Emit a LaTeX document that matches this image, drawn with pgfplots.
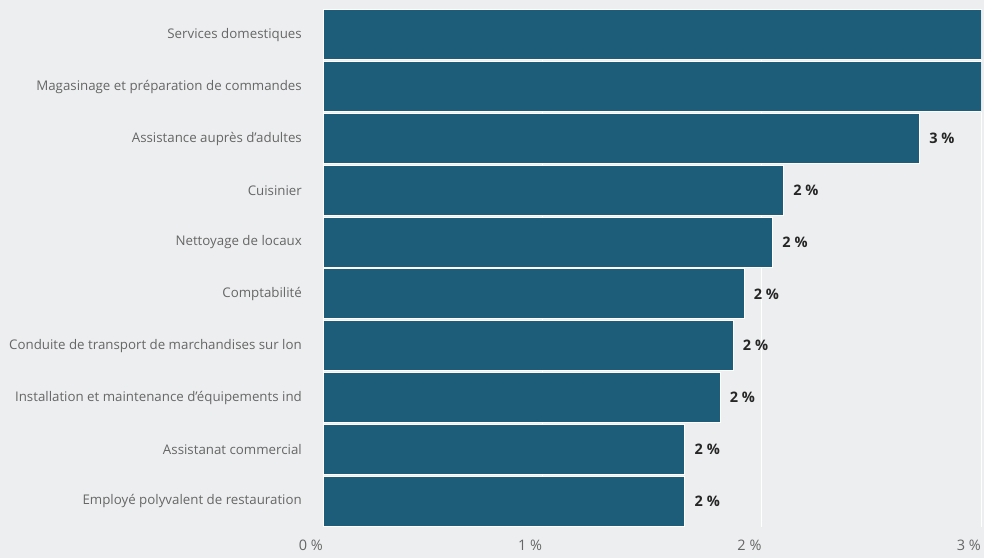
\documentclass[border=0pt]{standalone}
\usepackage{pgfplots}
\pgfplotsset{compat=1.18}
\usepackage{fontspec}
\setmainfont{Open Sans}
\definecolor{bg}{HTML}{EDEEF0}
\definecolor{barc}{HTML}{1E5D7A}
\definecolor{lab}{HTML}{666666}

\begin{document}
\begin{tikzpicture}[x=1pt,y=1pt]
  \fill[bg] (0,0) rectangle (984,558);
  \path[use as bounding box] (0,0) rectangle (984,558);
  \begin{axis}[
    at={(323pt,31pt)}, anchor=south west,
    scale only axis,
    width=658pt, height=518pt,
    xbar, bar width=50pt,
    xmin=0, xmax=3,
    ymin=-0.5, ymax=9.5,
    y dir=reverse,
    axis line style={draw=none},
    tick style={draw=none},
    xtick={0,1,2,3},
    xticklabels={0 \%,1 \%,2 \%,3 \%},
    xticklabel style={font=\fontsize{14.5}{16}\selectfont, text=lab,
      anchor=north east, yshift=-13pt},
    xtick pos=bottom,
    ytick={0,...,9},
    yticklabels={Services domestiques,
      Magasinage et préparation de commandes,
      Assistance auprès d'adultes,
      Cuisinier,
      Nettoyage de locaux,
      Comptabilité,
      Conduite de transport de marchandises sur lon,
      Installation et maintenance d'équipements ind,
      Assistanat commercial,
      Employé polyvalent de restauration},
    yticklabel style={font=\fontsize{13.3}{15}\selectfont, text=lab},
    ytick pos=left,
    every tick label/.append style={inner sep=0pt},
    yticklabel style={xshift=-21pt+\pgfkeysvalueof{/pgfplots/major tick length}},
    xmajorgrids, grid style={draw=white, line width=1pt},
    nodes near coords,
    point meta=explicit symbolic,
    nodes near coords style={anchor=west, xshift=6pt,
      font=\fontsize{14.5}{17}\selectfont\bfseries, text=black!85},
  ]
    \addplot[fill=barc, draw=white, line width=1pt] coordinates {
      (3.30,0) []
      (3.20,1) []
      (2.72,2) [3 \%]
      (2.10,3) [2 \%]
      (2.05,4) [2 \%]
      (1.92,5) [2 \%]
      (1.87,6) [2 \%]
      (1.81,7) [2 \%]
      (1.65,8) [2 \%]
      (1.65,9) [2 \%]
    };
  \end{axis}
\end{tikzpicture}
\end{document}
